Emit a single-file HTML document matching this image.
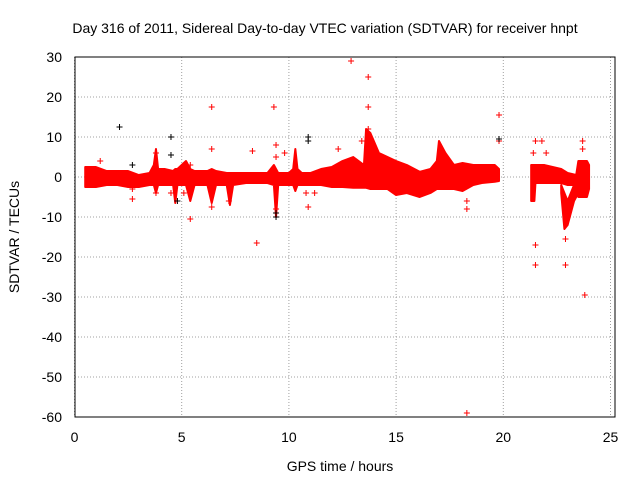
<!DOCTYPE html>
<html><head><meta charset="utf-8"><style>
body{margin:0;background:#fff;font-family:"Liberation Sans",sans-serif}
svg text{font-family:"Liberation Sans",sans-serif;font-size:14px;fill:#000}
</style></head><body>
<svg id="c" width="640" height="480">
<text x="325" y="33" text-anchor="middle">Day 316 of 2011, Sidereal Day-to-day VTEC variation (SDTVAR) for receiver hnpt</text>
<text x="340" y="471" text-anchor="middle">GPS time / hours</text>
<text transform="translate(19,237) rotate(-90)" text-anchor="middle">SDTVAR / TECUs</text>
<g id="grid"></g><g id="marks"></g>
<rect x="75" y="57" width="540" height="360" fill="none" stroke="#000"/>
</svg>
<script>
const xTicks=[0,5,10,15,20,25];
const yTicks=[30,20,10,0,-10,-20,-30,-40,-50,-60];
const band1T=[0.5,1,1.5,2,2.5,3,3.5,3.7,3.8,3.9,4.2,4.6,4.7,4.8,5.2,5.4,5.6,6.2,6.4,6.6,7.1,7.25,7.4,8,9,9.3,9.4,9.5,10,10.2,10.3,10.4,10.6,11,11.5,12,12.5,13,13.5,13.6,13.8,14.2,14.6,15,15.5,16.1,16.6,16.9,17.0,17.3,17.7,18.1,18.6,19,19.6,19.8];
const band1Hi=[2.5,2.5,1.5,1.5,1.5,0.5,1,3,7,2,2,1.5,2,2,4,2,1.5,1.5,2,1.5,1,1,1,1,1,3,2,1,1,2,7,2,1,1,2,2.5,4,5,3,12,11,6,5,4,3,1.3,2,4,9,6,3,3.5,3,3,3,2];
const band1Lo=[-2.5,-2.5,-2,-2,-2.5,-2.5,-2,-2,-4,-2,-2,-2,-6.5,-2,-2,-6,-2,-2,-6.5,-2,-2,-7,-2,-1.5,-1.5,-2,-10,-2,-2,-2,-3.5,-2,-2,-2,-2,-2.5,-2.5,-2.7,-2.7,-2.7,-3,-3,-3,-4.5,-4,-5,-4,-3,-3,-3,-3,-3.5,-2,-1.5,-1.2,-1];
const band2T=[21.3,21.45,21.5,21.9,22.3,22.7,23.0,23.4,23.5,23.9,24];
const band2Hi=[3,3,3,3,2.5,2,1,0.5,4,4,3];
const band2Lo=[-6,-6,-1.5,-1.5,-1.5,-1.5,-2,-2,-5,-5,-3];
const hookT=[22.7,22.85,23.0,23.3,23.6];
const hookHi=[-2,-4,-6,-2,0];
const hookLo=[-4,-13,-12,-6,-3];
const redX=[1.2,2.7,2.7,3.8,3.8,4.5,5.1,5.4,5.4,6.4,6.4,6.4,7.2,8.3,8.5,9.3,9.4,9.4,9.4,9.8,10.8,10.9,11.2,12.3,12.9,13.4,13.7,13.7,13.7,14,18.3,18.3,18.3,19.8,19.8,21.5,21.5,21.5,21.8,22.9,22.9,23.7,23.7,23.8,21.4,22];
const redY=[4,-5.5,-3,6,-4,-4,-4,-10.5,3,17.5,7,-7.5,-6,6.5,-16.5,17.5,8,5,-8,6,-4,-7.5,-4,7,29,9,25,17.5,12,6,-6,-8,-59,15.5,9,9,-17,-22,9,-22,-15.5,9,7,-29.5,6,6];
const blackX=[2.1,4.5,4.5,10.9,10.9,19.8,2.7,4.8,9.4,9.4];
const blackY=[12.5,10,5.5,10,9,9.5,3,-6,-10,-9];
const X=v=>74.5+v*21.44, Y=v=>57+(30-v)*4;
const NS='http://www.w3.org/2000/svg';
const grid=document.getElementById('grid'), marks=document.getElementById('marks');
function mk(tag,at,par){const e=document.createElementNS(NS,tag);for(const k in at)e.setAttribute(k,at[k]);par.appendChild(e);return e;}
xTicks.forEach(t=>{
 const l=mk('line',{x1:X(t),x2:X(t),y1:57,y2:417,stroke:'#a0a0a0','stroke-dasharray':'1,2'},grid);
 
 
 const s=mk('text',{x:X(t),y:442,'text-anchor':'middle'},grid);s.textContent=t;
 
 
});
yTicks.forEach(t=>{
 const l=mk('line',{x1:75,x2:615,y1:Y(t),y2:Y(t),stroke:'#a0a0a0','stroke-dasharray':'1,2'},grid);
 
 
 const s=mk('text',{x:62,y:Y(t)+5,'text-anchor':'end'},grid);s.textContent=t;
 
 
});
function band(T,L,H,name){
 let d='M'+T.map((t,i)=>X(t)+','+Y(H[i])).join('L');
 for(let i=T.length-1;i>=0;i--)d+='L'+X(T[i])+','+Y(L[i]);
 const p=mk('path',{d:d+'Z',fill:'#ff0000',stroke:'#ff0000','stroke-width':2,'stroke-linejoin':'round'},marks);
 
 
}
band(band1T,band1Lo,band1Hi,'sdtvar-band-main');
band(band2T,band2Lo,band2Hi,'sdtvar-band-late');
band(hookT,hookLo,hookHi,'sdtvar-band-hook');
function plus(x,y,c,name){
 const p=mk('path',{d:`M${X(x)-3},${Y(y)}h6M${X(x)},${Y(y)-3}v6`,stroke:c,'stroke-width':1},marks);
 
 
}
redX.forEach((x,i)=>plus(x,redY[i],'#ff0000','outlier-point'));
blackX.forEach((x,i)=>plus(x,blackY[i],'#000','black-point'));
</script>
</body></html>
